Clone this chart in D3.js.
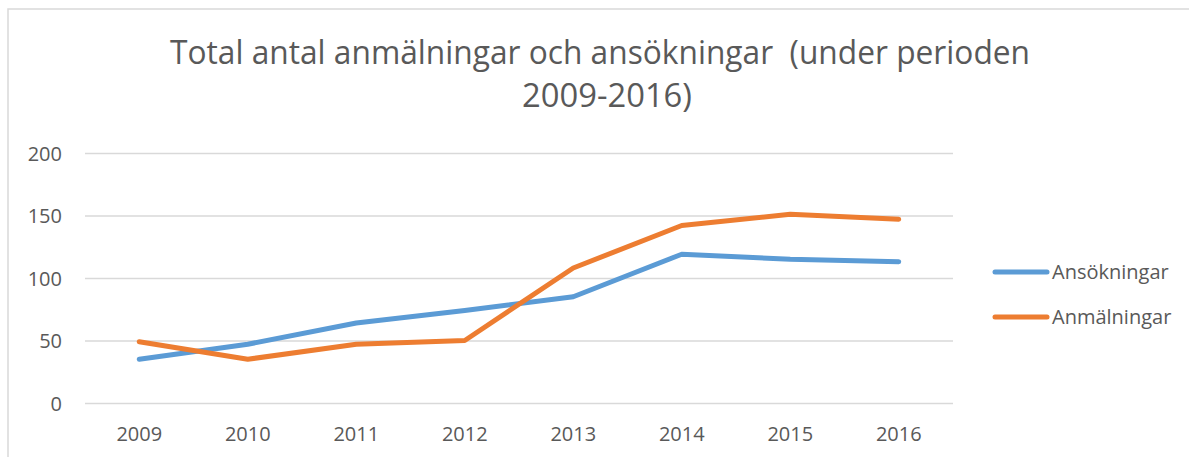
<!DOCTYPE html>
<html>
<head>
<meta charset="utf-8">
<script src="https://cdn.jsdelivr.net/npm/d3@7"></script>
<style>
  html, body { margin: 0; padding: 0; background: #fff; }
  svg text { font-family: "Open Sans", "Noto Sans", sans-serif; fill: #595959; }
  .title { white-space: pre; }
</style>
</head>
<body>
<svg id="chart" width="1189" height="457"></svg>
<script>
// Data
const years = ["2009", "2010", "2011", "2012", "2013", "2014", "2015", "2016"];
const ansokningar = [35, 47, 64, 74, 85, 119, 115, 113];
const anmalningar = [49, 35, 47, 50, 108, 142, 151, 147];
const yTicks = [0, 50, 100, 150, 200];
const seriesNames = ["Ansökningar", "Anmälningar"];
const titleLines = ["Total antal anmälningar och ansökningar  (under perioden", "2009-2016)"];

const colors = ["#5B9BD5", "#ED7D31"];
const seriesValues = [ansokningar, anmalningar];

const svg = d3.select("#chart");
const W = 1189, H = 457;
const plot = { left: 85, right: 953, top: 153, bottom: 403 };

// Chart area border (only top and left edges fall inside the frame)
svg.append("path")
  .attr("d", `M8,${H} L8,9 L${W},9`)
  .attr("fill", "none")
  .attr("stroke", "#D9D9D9")
  .attr("stroke-width", 1.5);

// Title
const title = svg.append("g");
title.append("text")
  .attr("class", "title")
  .attr("x", 600).attr("y", 64)
  .attr("text-anchor", "middle")
  .attr("font-size", 32)
  .attr("textLength", 860)
  .attr("lengthAdjust", "spacingAndGlyphs")
  .text(titleLines[0]);
title.append("text")
  .attr("class", "title")
  .attr("x", 607).attr("y", 107)
  .attr("text-anchor", "middle")
  .attr("font-size", 32)
  .attr("textLength", 170)
  .attr("lengthAdjust", "spacingAndGlyphs")
  .text(titleLines[1]);

// Scales
const x = d3.scaleBand().domain(years).range([plot.left, plot.right]).padding(0);
const y = d3.scaleLinear().domain([0, 200]).range([plot.bottom, plot.top]);
const cx = d => x(d) + x.bandwidth() / 2;

// Gridlines + y labels
const yAxis = d3.axisLeft(y).tickValues(yTicks).tickSize(-(plot.right - plot.left)).tickPadding(23);
const gy = svg.append("g").attr("transform", `translate(${plot.left},0)`).call(yAxis);
gy.select(".domain").remove();
gy.selectAll(".tick line").attr("stroke", "#D9D9D9").attr("stroke-width", 1.5);
gy.selectAll(".tick text")
  .attr("font-size", 20)
  .attr("fill", "#595959")
  .attr("font-family", "Open Sans, Noto Sans, sans-serif")
  .attr("dy", "0.36em");

// x labels
const xAxis = d3.axisBottom(x).tickSize(0).tickPadding(24);
const gx = svg.append("g").attr("transform", `translate(0,${plot.bottom})`).call(xAxis);
gx.select(".domain").remove();
gx.selectAll(".tick text")
  .attr("font-size", 20)
  .attr("fill", "#595959")
  .attr("font-family", "Open Sans, Noto Sans, sans-serif")
  .attr("dy", "0.71em");

// Lines
const line = d3.line()
  .x((d, i) => cx(years[i]))
  .y(d => y(d));

seriesValues.forEach((vals, i) => {
  svg.append("path")
    .datum(vals)
    .attr("fill", "none")
    .attr("stroke", colors[i])
    .attr("stroke-width", 5)
    .attr("stroke-linecap", "round")
    .attr("stroke-linejoin", "round")
    .attr("d", line);
});

// Legend
const legend = svg.append("g");
seriesNames.forEach((name, i) => {
  const ly = 272 + i * 45;
  legend.append("line")
    .attr("x1", 995).attr("x2", 1047)
    .attr("y1", ly).attr("y2", ly)
    .attr("stroke", colors[i])
    .attr("stroke-width", 5)
    .attr("stroke-linecap", "round");
  legend.append("text")
    .attr("x", 1052).attr("y", ly)
    .attr("dy", "0.36em")
    .attr("font-size", 20)
    .text(name);
});
</script>
</body>
</html>
